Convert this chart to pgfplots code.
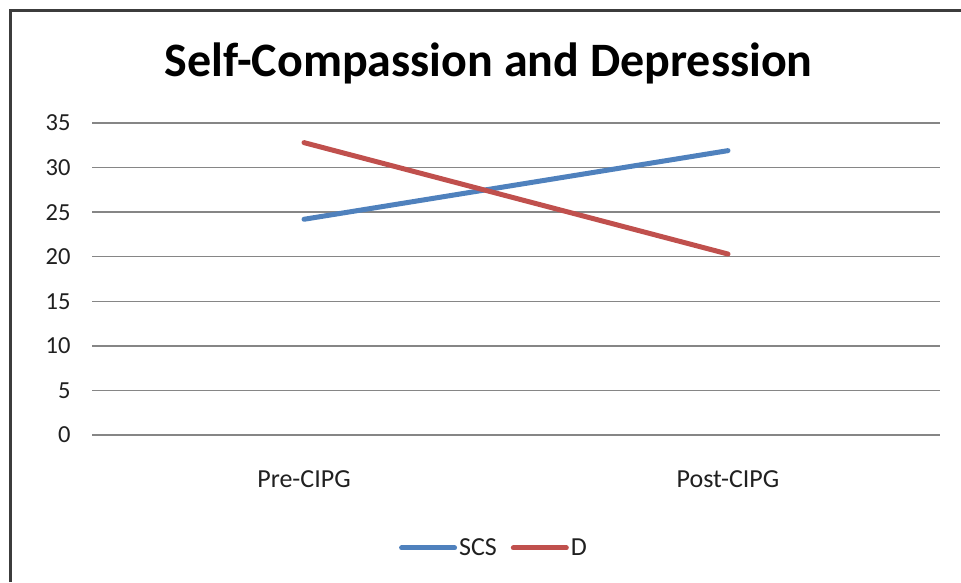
\documentclass[border=0pt]{standalone}
\usepackage{pgfplots}
\pgfplotsset{compat=1.18}
\usepackage{fontspec}
\setmainfont{Carlito}

\definecolor{scsblue}{HTML}{4F81BD}
\definecolor{dred}{HTML}{C0504D}
\definecolor{gridgray}{HTML}{868686}
\definecolor{framegray}{HTML}{3C3C3C}
\definecolor{textgray}{HTML}{202020}

\begin{document}
\begin{tikzpicture}[x=1pt,y=1pt]
\useasboundingbox (0,0) rectangle (961,582);
% chart frame (only left and top edges visible)
\draw[framegray, line width=2.5pt] (10.5,0) -- (10.5,571.5) -- (961,571.5);
% title
\node[anchor=base, font=\fontsize{48}{56}\selectfont\bfseries] at (488.5,505) {Self-Compassion and Depression};

\begin{axis}[
    scale only axis,
    width=848pt, height=312pt,
    at={(92pt,147pt)}, anchor=south west,
    xmin=-0.5, xmax=1.5,
    ymin=0, ymax=35,
    xtick={0,1},
    xticklabels={Pre-CIPG,Post-CIPG},
    ytick={0,5,...,35},
    axis line style={draw=none},
    major tick length=0pt,
    ymajorgrids=true,
    grid style={gridgray, line width=1.3pt},
    tick label style={font=\fontsize{24.5}{28}\selectfont, text=textgray},
    xticklabel style={font=\fontsize{26}{30}\selectfont, yshift=-32pt},
    /pgf/number format/assume math mode=true,
    yticklabel style={xshift=-18pt},
    clip=false,
    legend style={
        at={(0.474,-0.362)}, anchor=center,
        draw=none, fill=none,
        legend columns=-1,
        font=\fontsize{26}{30}\selectfont,
        text=textgray,
        /tikz/every even column/.append style={column sep=12pt},
        nodes={inner xsep=2pt},
    },
    legend image code/.code={\draw[#1] (0pt,0pt) -- (53pt,0pt);},
]
\addplot[scsblue, line width=5pt, line cap=round] coordinates {(0,24.2) (1,31.9)};
\addlegendentry{SCS}
\addplot[dred, line width=5pt, line cap=round] coordinates {(0,32.8) (1,20.3)};
\addlegendentry{D}
\end{axis}
\end{tikzpicture}
\end{document}
